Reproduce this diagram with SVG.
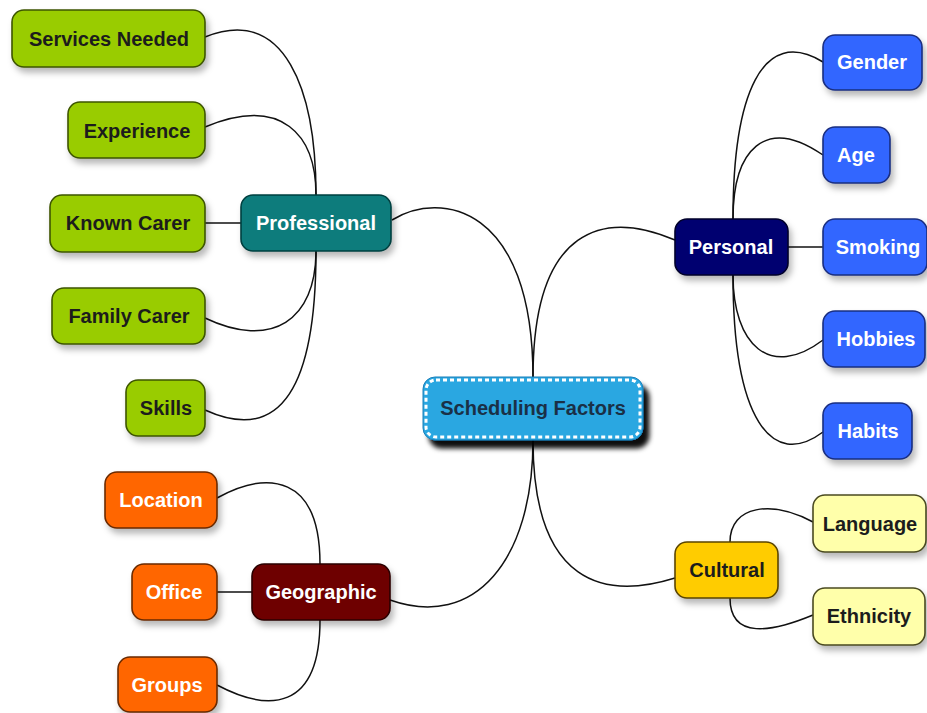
<svg xmlns="http://www.w3.org/2000/svg" width="927" height="713" viewBox="0 0 927 713">
<defs>
<filter id="sh" x="-20%" y="-30%" width="150%" height="180%"><feDropShadow dx="3" dy="5" stdDeviation="3" flood-color="#000" flood-opacity="0.28"/></filter>
<filter id="shc" x="-20%" y="-30%" width="150%" height="180%"><feDropShadow dx="6" dy="8" stdDeviation="2.5" flood-color="#000" flood-opacity="0.95"/></filter>
</defs>
<style>
text{font-family:"Liberation Sans",Arial,sans-serif;font-weight:bold;font-size:20px;text-anchor:middle;dominant-baseline:central}
.n rect{stroke-width:1.6;filter:url(#sh)}
.g rect{fill:#99cc00;stroke:#3d5500}
.g text{fill:#1c1c1c}
.b rect{fill:#3366ff;stroke:#1a2f80}
.o rect{fill:#ff6600;stroke:#6a2a00}
.y rect{fill:#ffffaa;stroke:#4a4a20}
.y text,.cu text{fill:#1c1c1c}
.w text{fill:#fff}
.c path{fill:none;stroke:#111;stroke-width:1.5}
</style>
<g class="c" id="connectors">
<path d="M392,220 C440,190 533,205 533,378"/>
<path d="M533,378 C533,225 605,210 675,240"/>
<path d="M533,440 C533,560 475,630 390,600"/>
<path d="M533,440 C533,585 605,600 675,578"/>
<path d="M316,195 C316,90 285,5 205,37"/>
<path d="M316,195 C316,135 282,95 205,127"/>
<path d="M205,223 L241,223"/>
<path d="M316,251 C316,320 272,350 205,318"/>
<path d="M316,251 C316,385 282,445 205,410"/>
<path d="M733,219 C733,95 762,25 823,62"/>
<path d="M733,219 C733,150 765,115 823,155"/>
<path d="M788,247 L823,247"/>
<path d="M733,275 C733,345 770,380 823,340"/>
<path d="M733,275 C733,420 772,470 823,432"/>
<path d="M730,542 C730,505 772,500 813,522"/>
<path d="M730,598 C730,640 772,632 813,615"/>
<path d="M320,564 C320,475 268,470 217,498"/>
<path d="M217,592 L252,592"/>
<path d="M320,620 C320,712 268,712 217,685"/>
</g>
<g id="central">
<rect x="423" y="377" width="220" height="63" rx="12" fill="#29a7e1" stroke="#1b7fb8" stroke-width="1" filter="url(#shc)"/>
<rect x="426" y="380" width="214" height="57" rx="10" fill="none" stroke="#fff" stroke-width="3" stroke-dasharray="4 3"/>
<text x="533" y="408" fill="#1a3046">Scheduling Factors</text>
</g>
<g id="professional" class="n w"><rect x="241" y="195" width="150" height="56" rx="12" fill="#0a7b7b" stroke="#064040"/><text x="316" y="223">Professional</text></g>
<g id="services" class="n g"><rect x="12" y="10" width="193" height="57" rx="12"/><text x="109" y="39">Services Needed</text></g>
<g id="experience" class="n g"><rect x="68" y="102" width="137" height="56" rx="12"/><text x="137" y="131">Experience</text></g>
<g id="known" class="n g"><rect x="50" y="195" width="155" height="57" rx="12"/><text x="128" y="223">Known Carer</text></g>
<g id="family" class="n g"><rect x="52" y="288" width="153" height="56" rx="12"/><text x="129" y="316">Family Carer</text></g>
<g id="skills" class="n g"><rect x="126" y="380" width="79" height="56" rx="12"/><text x="166" y="408">Skills</text></g>
<g id="personal" class="n w"><rect x="675" y="219" width="113" height="56" rx="12" fill="#010170" stroke="#00002a"/><text x="731" y="247">Personal</text></g>
<g id="gender" class="n b w"><rect x="823" y="35" width="99" height="55" rx="12"/><text x="872" y="62">Gender</text></g>
<g id="age" class="n b w"><rect x="823" y="127" width="67" height="56" rx="12"/><text x="856" y="155">Age</text></g>
<g id="smoking" class="n b w"><rect x="823" y="219" width="104" height="56" rx="12"/><text x="878" y="247">Smoking</text></g>
<g id="hobbies" class="n b w"><rect x="823" y="311" width="102" height="56" rx="12"/><text x="876" y="339">Hobbies</text></g>
<g id="habits" class="n b w"><rect x="823" y="403" width="89" height="56" rx="12"/><text x="868" y="431">Habits</text></g>
<g id="cultural" class="n cu"><rect x="675" y="542" width="103" height="56" rx="12" fill="#ffcc00" stroke="#5a4400"/><text x="727" y="570">Cultural</text></g>
<g id="language" class="n y"><rect x="813" y="495" width="113" height="57" rx="12"/><text x="870" y="524">Language</text></g>
<g id="ethnicity" class="n y"><rect x="813" y="588" width="112" height="57" rx="12"/><text x="869" y="616">Ethnicity</text></g>
<g id="geographic" class="n w"><rect x="252" y="564" width="138" height="56" rx="12" fill="#6e0000" stroke="#2a0000"/><text x="321" y="592">Geographic</text></g>
<g id="location" class="n o w"><rect x="105" y="472" width="112" height="56" rx="12"/><text x="161" y="500">Location</text></g>
<g id="office" class="n o w"><rect x="132" y="564" width="85" height="56" rx="12"/><text x="174" y="592">Office</text></g>
<g id="groups" class="n o w"><rect x="118" y="657" width="99" height="55" rx="12"/><text x="167" y="685">Groups</text></g>
</svg>
